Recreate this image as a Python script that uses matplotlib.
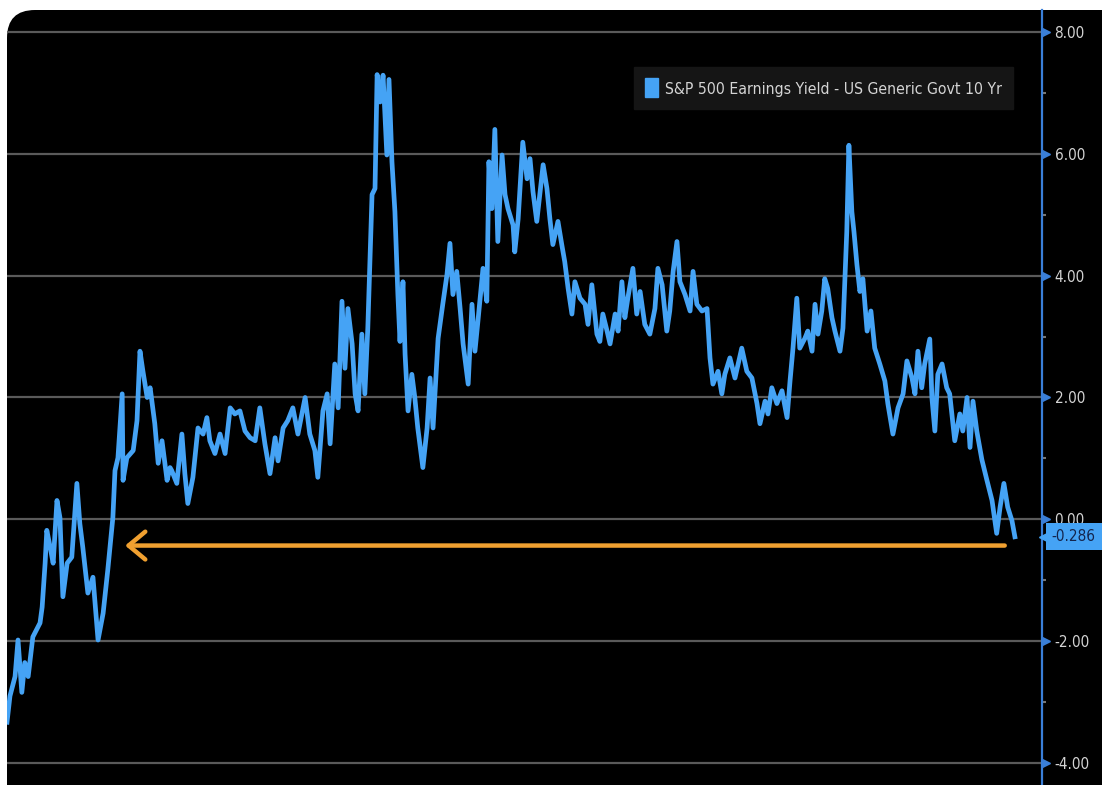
import matplotlib.pyplot as plt
import matplotlib.patches as mpatches
import matplotlib.transforms as mtransforms
from matplotlib.ticker import MultipleLocator

LINE_COLOUR = '#45a3f5'  # Bloomberg style blue
ARROW_COLOUR = '#f0a030'
GRID_COLOUR = '#5a5a5a'
AXIS_COLOUR = '#3a7fd8'
TEXT_COLOUR = '#d4d4d4'
DPI = 100

SERIES_NAME = "S&P 500 Earnings Yield - US Generic Govt 10 Yr"
LAST_VALUE = -0.286
ARROW_LEVEL = -0.43
ARROW_START = 2023.56
ARROW_END = 2002.79

# decimal year of each reading
years = [
    2000.00, 2000.07, 2000.19, 2000.26, 2000.35, 2000.42, 2000.50, 2000.61,
    2000.78, 2000.83, 2000.90, 2000.94, 2001.02, 2001.09, 2001.18, 2001.25,
    2001.32, 2001.42, 2001.53, 2001.65, 2001.72, 2001.79, 2001.91, 2002.03,
    2002.15, 2002.27, 2002.38, 2002.50, 2002.55, 2002.62, 2002.72, 2002.74,
    2002.83, 2002.98, 2003.07, 2003.14, 2003.21, 2003.31, 2003.38, 2003.49,
    2003.57, 2003.66, 2003.78, 2003.85, 2003.89, 2004.01, 2004.13, 2004.20,
    2004.27, 2004.39, 2004.51, 2004.63, 2004.72, 2004.79, 2004.91, 2005.03,
    2005.15, 2005.27, 2005.38, 2005.50, 2005.62, 2005.74, 2005.86, 2005.97,
    2006.09, 2006.21, 2006.33, 2006.40, 2006.52, 2006.63, 2006.75, 2006.87,
    2007.04, 2007.15, 2007.27, 2007.34, 2007.46, 2007.56, 2007.63, 2007.74,
    2007.82, 2007.91, 2007.98, 2008.05, 2008.15, 2008.22, 2008.29, 2008.38,
    2008.45, 2008.52, 2008.62, 2008.69, 2008.74, 2008.81, 2008.88, 2008.97,
    2009.02, 2009.09, 2009.16, 2009.23, 2009.28, 2009.35, 2009.40, 2009.47,
    2009.56, 2009.63, 2009.70, 2009.82, 2009.92, 2009.99, 2010.06, 2010.18,
    2010.29, 2010.39, 2010.46, 2010.53, 2010.62, 2010.70, 2010.77, 2010.89,
    2010.98, 2011.05, 2011.12, 2011.24, 2011.33, 2011.38, 2011.45, 2011.52,
    2011.59, 2011.69, 2011.76, 2011.83, 2011.95, 2011.99, 2012.07, 2012.18,
    2012.28, 2012.35, 2012.42, 2012.51, 2012.58, 2012.66, 2012.75, 2012.82,
    2012.89, 2013.01, 2013.10, 2013.17, 2013.25, 2013.34, 2013.41, 2013.53,
    2013.65, 2013.72, 2013.81, 2013.93, 2014.00, 2014.07, 2014.17, 2014.24,
    2014.36, 2014.43, 2014.52, 2014.59, 2014.66, 2014.78, 2014.87, 2014.95,
    2015.06, 2015.18, 2015.30, 2015.37, 2015.47, 2015.58, 2015.65, 2015.73,
    2015.82, 2015.89, 2016.01, 2016.13, 2016.20, 2016.29, 2016.41, 2016.53,
    2016.60, 2016.67, 2016.79, 2016.88, 2016.95, 2017.07, 2017.19, 2017.35,
    2017.47, 2017.59, 2017.71, 2017.78, 2017.90, 2017.97, 2018.06, 2018.18,
    2018.30, 2018.42, 2018.49, 2018.56, 2018.65, 2018.72, 2018.84, 2018.91,
    2019.01, 2019.08, 2019.15, 2019.24, 2019.31, 2019.38, 2019.48, 2019.55,
    2019.67, 2019.74, 2019.83, 2019.88, 2019.95, 2020.00, 2020.07, 2020.14,
    2020.21, 2020.31, 2020.40, 2020.49, 2020.61, 2020.73, 2020.80, 2020.92,
    2021.04, 2021.16, 2021.25, 2021.37, 2021.44, 2021.51, 2021.60, 2021.67,
    2021.79, 2021.84, 2021.91, 2021.98, 2022.08, 2022.19, 2022.26, 2022.38,
    2022.50, 2022.57, 2022.67, 2022.74, 2022.81, 2022.90, 2023.02, 2023.14,
    2023.26, 2023.37, 2023.45, 2023.54, 2023.63, 2023.73, 2023.80,
]

# earnings yield minus 10y yield, in percent
spread = [
    -3.33, -2.90, -2.58, -1.98, -2.84, -2.35, -2.58, -1.93,
    -1.70, -1.44, -0.72, -0.18, -0.46, -0.72, 0.31, 0.03,
    -1.27, -0.72, -0.62, 0.59, -0.07, -0.46, -1.21, -0.95,
    -1.98, -1.54, -0.83, 0.03, 0.80, 1.01, 2.06, 0.64,
    1.01, 1.13, 1.62, 2.76, 2.43, 2.00, 2.16, 1.57,
    0.92, 1.29, 0.64, 0.85, 0.80, 0.59, 1.40, 0.75,
    0.26, 0.69, 1.50, 1.40, 1.67, 1.29, 1.08, 1.40,
    1.08, 1.83, 1.73, 1.78, 1.45, 1.34, 1.29, 1.83,
    1.24, 0.75, 1.34, 0.96, 1.50, 1.62, 1.83, 1.40,
    2.00, 1.40, 1.13, 0.69, 1.78, 2.06, 1.24, 2.55,
    1.83, 3.58, 2.48, 3.46, 2.88, 2.06, 1.78, 3.04,
    2.06, 3.14, 5.33, 5.43, 7.30, 6.85, 7.29, 5.98,
    7.22, 5.87, 5.05, 3.69, 2.92, 3.90, 2.71, 1.78,
    2.38, 2.00, 1.50, 0.85, 1.50, 2.32, 1.50, 2.97,
    3.53, 4.02, 4.53, 3.69, 4.07, 3.46, 2.88, 2.22,
    3.53, 2.76, 3.25, 4.12, 3.58, 5.87, 5.10, 6.40,
    4.56, 5.98, 5.33, 5.10, 4.83, 4.39, 4.93, 6.19,
    5.59, 5.92, 5.38, 4.89, 5.33, 5.82, 5.43, 4.93,
    4.51, 4.89, 4.51, 4.23, 3.79, 3.37, 3.90, 3.63,
    3.53, 3.20, 3.85, 3.04, 2.92, 3.37, 3.09, 2.88,
    3.37, 3.09, 3.90, 3.31, 3.63, 4.12, 3.37, 3.74,
    3.20, 3.04, 3.46, 4.12, 3.85, 3.09, 3.42, 4.07,
    4.56, 3.90, 3.69, 3.42, 4.07, 3.53, 3.42, 3.46,
    2.65, 2.22, 2.43, 2.06, 2.38, 2.65, 2.32, 2.81,
    2.43, 2.32, 1.90, 1.57, 1.94, 1.73, 2.16, 1.90,
    2.11, 1.67, 2.27, 2.81, 3.63, 2.81, 2.97, 3.09,
    2.76, 3.53, 3.04, 3.42, 3.95, 3.79, 3.31, 3.09,
    2.76, 3.14, 4.72, 6.14, 5.05, 4.72, 4.18, 3.74,
    3.95, 3.09, 3.42, 2.81, 2.55, 2.27, 1.90, 1.40,
    1.83, 2.06, 2.60, 2.32, 2.06, 2.76, 2.16, 2.55,
    2.96, 2.00, 1.45, 2.38, 2.55, 2.16, 2.06, 1.29,
    1.73, 1.45, 2.00, 1.18, 1.94, 1.45, 0.98, 0.64,
    0.31, -0.23, 0.20, 0.59, 0.20, -0.02, -0.286,
]

y_ticks = [8, 6, 4, 2, 0, -2, -4]


def fit_text_width(fig, text, target_px):
    """
    Shrink a text until it is about as wide as in the screenshot
    (the terminal font is narrower than DejaVu Sans)
    """
    renderer = fig.canvas.get_renderer()
    width = text.get_window_extent(renderer).width
    if width > target_px:
        text.set_fontsize(text.get_fontsize() * target_px / width)


def draw_background(fig):
    """
    Black rounded panel on a white page, like the terminal screenshot
    """
    panel = mpatches.FancyBboxPatch(
        (7, -40), 1125, 815,
        boxstyle="round,pad=0,rounding_size=28",
        transform=mtransforms.IdentityTransform(),
        fc='black', ec='none', zorder=-10)
    fig.patches.append(panel)


def draw_chart(fig, ax):
    ax.set_facecolor('none')
    ax.plot(years, spread, color=LINE_COLOUR, lw=3.4,
            solid_joinstyle='round', zorder=3)

    ax.set_xlim(2000.0, 2024.44)
    ax.set_ylim(-4.36, 8.36)

    # gridlines every 2.00
    for t in y_ticks:
        ax.axhline(t, color=GRID_COLOUR, lw=1.6, zorder=1)

    for side in ['left', 'top', 'bottom']:
        ax.spines[side].set_visible(False)
    ax.spines['right'].set_color(AXIS_COLOUR)
    ax.spines['right'].set_linewidth(1.6)

    ax.set_xticks([])
    ax.yaxis.tick_right()
    ax.set_yticks(y_ticks)
    ax.set_yticklabels(["%.2f" % t for t in y_ticks],
                       fontstretch='condensed')
    ax.yaxis.set_minor_locator(MultipleLocator(1))
    ax.tick_params(axis='y', which='major', length=0, pad=9,
                   labelcolor=TEXT_COLOUR, labelsize=11)
    ax.tick_params(axis='y', which='minor', length=3, width=1.5,
                   color='#777777', direction='out')

    # small blue triangles on the axis at each label
    trans = mtransforms.blended_transform_factory(ax.transAxes, ax.transData)
    ax.plot([1.004] * len(y_ticks), y_ticks, linestyle='none', marker='>',
            ms=6, color=AXIS_COLOUR, transform=trans, clip_on=False,
            zorder=5)

    # last value tag
    ax.plot([1.0035], [LAST_VALUE], linestyle='none', marker='<', ms=10,
            color=LINE_COLOUR, transform=trans, clip_on=False, zorder=6)
    tag = ax.text(1.0095, LAST_VALUE, "%.3f" % LAST_VALUE, transform=trans,
                  ha='left', va='center', fontsize=11, color='#14254d',
                  fontstretch='condensed',
                  bbox=dict(boxstyle='square,pad=0.4', fc=LINE_COLOUR,
                            ec='none'),
                  clip_on=False, zorder=6)

    # orange arrow pointing back to the last time the spread was this low
    ax.annotate('', xy=(ARROW_END, ARROW_LEVEL),
                xytext=(ARROW_START, ARROW_LEVEL),
                arrowprops=dict(arrowstyle='->,head_length=0.6,head_width=0.5',
                                mutation_scale=20, color=ARROW_COLOUR,
                                lw=3.2, shrinkA=0, shrinkB=0),
                zorder=4)

    handle = mpatches.Patch(color=LINE_COLOUR)
    leg = ax.legend([handle], [SERIES_NAME], loc='upper right',
                    bbox_to_anchor=(0.972, 0.9265), borderaxespad=0,
                    frameon=True, fancybox=False, facecolor='#151515',
                    edgecolor='#151515', framealpha=1,
                    handlelength=0.7, handleheight=1.2, handletextpad=0.35,
                    borderpad=0.6,
                    prop={'family': 'DejaVu Sans', 'stretch': 'condensed',
                          'size': 13.5})
    for txt in leg.get_texts():
        txt.set_color(TEXT_COLOUR)

    fit_text_width(fig, leg.get_texts()[0], 337)
    fit_text_width(fig, tag, 44)
    for lab in ax.get_yticklabels():
        fit_text_width(fig, lab, 32 if not lab.get_text().startswith('-')
                       else 38)


if __name__ == "__main__":
    fig = plt.figure(figsize=(11.02, 7.85), dpi=DPI, facecolor='white')
    draw_background(fig)
    ax = fig.add_axes([7 / 1102, 0.0, 1035 / 1102, 775 / 785])
    draw_chart(fig, ax)
    fig.savefig("out.png", dpi=DPI, facecolor='white')
